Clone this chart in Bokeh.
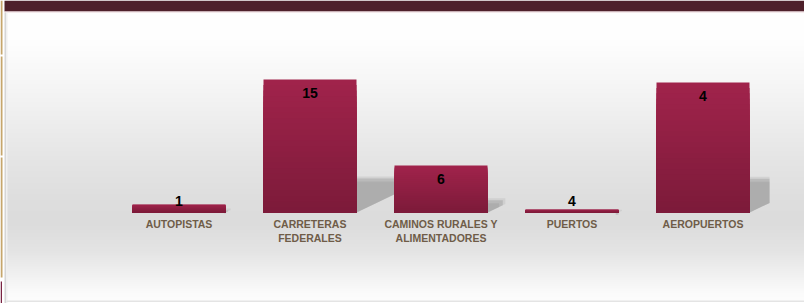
import numpy as np
from bokeh.plotting import figure
from bokeh.models import ColumnDataSource, Range1d
from bokeh.core.properties import value
from bokeh.embed import file_html
from bokeh.resources import INLINE

# ---------------- data ----------------
categories = ["AUTOPISTAS", "CARRETERAS\nFEDERALES", "CAMINOS RURALES Y\nALIMENTADORES",
              "PUERTOS", "AEROPUERTOS"]
bar_values = [8, 133, 47, 3, 130]          # bar heights
bar_labels = ["1", "15", "6", "4", "4"]    # numbers printed on the bars

# ---------------- layout constants ----------------
W, H = 804, 303
PXU = 131.0                 # pixels per category step
X0 = 178.5                  # page x of first category centre
BASE = 212.0                # page y of baseline
BW = 93.0 / PXU             # bar width (units)
CLIP_RIGHT = (769 - X0) / PXU

def ux(px):
    return (px - X0) / PXU

def uy(py):
    return BASE - py

p = figure(width=W, height=H, output_backend="svg", toolbar_location=None,
           x_range=Range1d(ux(0), ux(W)), y_range=Range1d(uy(H), uy(0)),
           min_border=0)
p.axis.visible = False
p.grid.visible = False
p.outline_line_color = None
p.background_fill_color = "white"
p.border_fill_color = "white"

# ---------------- background gradient ----------------
stops_y = [12, 40, 80, 120, 160, 200, 222, 250, 272, 292, 301]
stops_v = [255, 254, 247, 238, 229, 222, 220, 228, 240, 251, 253]
ys_page = np.arange(300, 12, -1) - 0.5   # bottom row first
gv = np.interp(ys_page, stops_y, stops_v).astype(np.uint32)
img = np.empty((len(gv), 1), dtype=np.uint32)
view = img.view(dtype=np.uint8).reshape((len(gv), 1, 4))
view[:, 0, 0] = gv
view[:, 0, 1] = gv
view[:, 0, 2] = gv
view[:, 0, 3] = 255
p.image_rgba(image=[img], x=ux(6), y=uy(300), dw=ux(W) - ux(6), dh=uy(12) - uy(300))

# ---------------- page decorations ----------------
p.quad(left=ux(4), right=ux(W), top=uy(0), bottom=uy(11), fill_color="#4e202b", line_color=None)
p.quad(left=ux(4), right=ux(W), top=uy(11), bottom=uy(12), fill_color="#ead3d7", line_color=None)
p.quad(left=ux(0), right=ux(2), top=uy(0), bottom=uy(54), fill_color="#c6a66c", line_color=None)
p.quad(left=ux(0), right=ux(2), top=uy(56), bottom=uy(155), fill_color="#c6a66c", line_color=None)
p.quad(left=ux(0), right=ux(2), top=uy(157), bottom=uy(277), fill_color="#c6a66c", line_color=None)
p.quad(left=ux(0), right=ux(1.5), top=uy(281), bottom=uy(303), fill_color="#7a2443", line_color=None)
p.quad(left=ux(4), right=ux(5.5), top=uy(12), bottom=uy(303), fill_color="#d6d6d6", line_color=None)
p.quad(left=ux(5.5), right=ux(7), top=uy(12), bottom=uy(303), fill_color="#f0f0f0", line_color=None)
p.quad(left=ux(6), right=ux(W), top=uy(300), bottom=uy(301.5), fill_color="#e4e4e4", line_color=None)

# ---------------- shadows ----------------
xs_idx = list(range(len(categories)))

def shadow_poly(i, v, grow):
    xr = i + BW / 2
    hs = min(0.26 * v, 34.0) + grow
    w = 1.25 * hs / PXU
    xe = min(xr + w, CLIP_RIGHT)
    frac = (xe - xr) / w if w > 0 else 0
    return ([xr, xr, xe, xe], [0, hs, hs, 0.6 * hs * frac])

for grow, alpha, col in [(2.0, 0.3, "#b0b0b0"), (0.0, 0.55, "#a6a6a6"), (-3.0, 0.45, "#a0a0a0")]:
    sx, sy = [], []
    for i, v in zip(xs_idx, bar_values):
        a, b = shadow_poly(i, v, grow)
        sx.append(a)
        sy.append(b)
    p.patches(xs=sx, ys=sy, fill_color=col, fill_alpha=alpha, line_color=None)

# ---------------- bars with vertical gradient ----------------
N = 24
top_rgb = np.array([0xA0, 0x23, 0x4B])
bot_rgb = np.array([0x7B, 0x1A, 0x39])
bx, btop, bcol = [], [], []
for k in range(N):
    frac = (N - k) / N
    c = bot_rgb + (top_rgb - bot_rgb) * frac
    hexc = "#%02x%02x%02x" % tuple(int(round(t)) for t in c)
    for i, v in zip(xs_idx, bar_values):
        bx.append(i)
        btop.append(v * frac)
        bcol.append(hexc)
p.vbar(x=bx, top=btop, bottom=0, width=BW, fill_color=bcol, line_color=None)

# ---------------- value labels ----------------
label_y = [max(v - 13, 12) for v in bar_values]
p.text(x=xs_idx, y=label_y, text=bar_labels, text_align="center", text_baseline="middle",
       text_font=value("Liberation Sans"), text_font_style="bold", text_font_size="14px",
       text_color="#000000")

# ---------------- category labels ----------------
p.text(x=xs_idx, y=[uy(217.5)] * len(categories), text=categories, text_align="center",
       text_baseline="top", text_font=value("Liberation Sans"), text_font_style="bold",
       text_font_size="10.5px", text_color="#6f5c48", text_line_height=1.2)

open("out.html", "w").write(file_html(p, INLINE))
